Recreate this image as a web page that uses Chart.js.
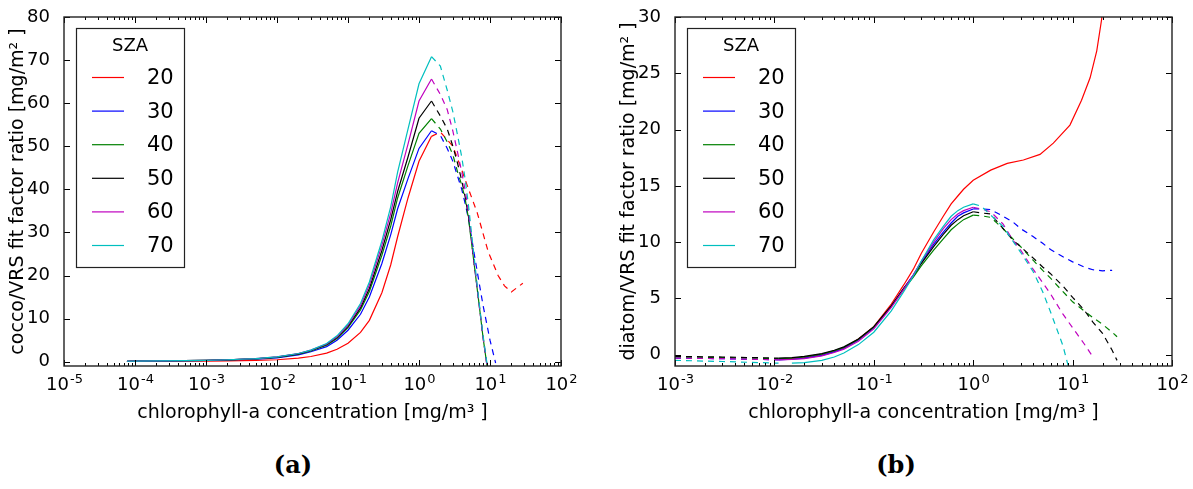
<!DOCTYPE html>
<html>
<head>
<meta charset="utf-8">
<script src="https://cdn.jsdelivr.net/npm/chart.js@4.4.1/dist/chart.umd.min.js"></script>
<style>
  body { margin: 0; background: #fff; width: 1193px; height: 489px; position: relative; overflow: hidden; }
  canvas { position: absolute; top: 0; }
  #chartA { left: 0; }
  #chartB { left: 611px; }
  .caption { position: absolute; top: 450px; width: 80px; text-align: center;
             font: bold 24px "DejaVu Serif", serif; color: #000; }
</style>
</head>
<body>
<canvas id="chartA" width="596" height="430"></canvas>
<canvas id="chartB" width="582" height="430"></canvas>
<div class="caption" style="left:253px">(a)</div>
<div class="caption" style="left:856px">(b)</div>
<script>
// ---------------- shared
const szaLabels = ['20', '30', '40', '50', '60', '70'];
const szaColors = ['#ff0000', '#0000ff', '#008000', '#000000', '#bf00bf', '#00bfbf'];
const legendTitle = 'SZA';
const xTitle = 'chlorophyll-a concentration [mg/m\u00b3 ]';

// ---------------- (a) cocco/VRS
const chlCocco = [7.7e-5, 1e-4, 2e-4, 5e-4, 1e-3, 2e-3, 5e-3, 1e-2, 2e-2, 3e-2, 5e-2, 0.07, 0.1, 0.15, 0.2, 0.3, 0.4, 0.5, 0.7, 1.0, 1.5];
const cocco20 = [0.05, 0.06, 0.08, 0.11, 0.14, 0.2, 0.3, 0.45, 0.85, 1.2, 2.0, 2.9, 4.3, 6.8, 9.6, 16, 22.5, 29, 38, 46.5, 52.3];
const cocco30 = [0.1, 0.11, 0.15, 0.22, 0.28, 0.4, 0.6, 0.9, 1.6, 2.3, 3.5, 5.0, 7.3, 11, 15, 22.8, 29.5, 35.5, 42.5, 49.5, 53.6];
const cocco40 = [0.1, 0.12, 0.16, 0.24, 0.3, 0.42, 0.65, 1.0, 1.75, 2.5, 3.8, 5.4, 7.9, 12, 16.3, 24.7, 31.5, 38, 45.5, 53, 56.4];
const cocco50 = [0.1, 0.12, 0.17, 0.25, 0.31, 0.43, 0.68, 1.05, 1.8, 2.6, 4.0, 5.6, 8.2, 12.5, 17, 25.8, 33, 39.5, 47.5, 56.5, 60.5];
const cocco60 = [0.1, 0.12, 0.17, 0.25, 0.32, 0.45, 0.7, 1.1, 1.9, 2.7, 4.1, 5.8, 8.5, 13, 17.8, 27, 34.5, 41.5, 50.5, 60.5, 65.6];
const cocco70 = [0.1, 0.12, 0.17, 0.25, 0.32, 0.45, 0.7, 1.1, 1.9, 2.7, 4.2, 6.0, 8.8, 13.5, 18.5, 28, 36, 44, 54, 64.5, 70.8];

// dashed part past the peak
const chlCoccoExt20 = [1.5, 2, 3, 4, 5, 6.6, 9.4, 13, 16, 20, 29];
const coccoExt20 = [52.3, 53.3, 50, 44.5, 40, 34.6, 25.6, 20, 17.6, 16.2, 18.2];
const chlCoccoExt = [1.5, 2, 2.5, 3, 3.5, 4, 4.5, 5, 6, 7, 8, 9, 10, 12];
const coccoExt30 = [53.6, 52.5, 49.5, 46.5, 43, 40, 36.5, 33, 25, 18.5, 13, 8.8, 5, -0.3];
const coccoExt40 = [56.4, 54, 51, 48, 44, 41, 37.5, 33, 22.5, 13.5, 5.5, -0.5, -6, -16];
const coccoExt50 = [60.5, 57, 54, 50, 46, 42, 38, 33.5, 22.5, 13.5, 5.5, -0.5, -6, -16];
const coccoExt60 = [65.6, 62, 58.5, 53.5, 48.5, 44, 39.5, 34.5, 23, 13.5, 5.5, -0.5, -6, -16];
const coccoExt70 = [70.8, 68.6, 63, 58, 52.5, 47.5, 42, 36, 24, 14, 6, 0, -6, -16];

const coccoYTicks = [0, 10, 20, 30, 40, 50, 60, 70, 80];

// ---------------- (b) diatom/VRS
const chlDiatomLow = [0.001, 0.003, 0.011];
const diatomLow30 = [-0.3, -0.35, -0.45];
const diatomLow40 = [-0.2, -0.25, -0.35];
const diatomLow50 = [-0.15, -0.2, -0.3];
const diatomLow60 = [-0.3, -0.35, -0.45];
const diatomLow70 = [-0.5, -0.6, -0.75];

const chlDiatom = [0.011, 0.015, 0.02, 0.03, 0.04, 0.05, 0.07, 0.1, 0.15, 0.2, 0.25, 0.3, 0.4, 0.5, 0.6, 0.7, 0.8, 1.0];
const diatom30 = [-0.45, -0.4, -0.3, -0.05, 0.25, 0.55, 1.3, 2.4, 4.3, 5.9, 7.1, 8.2, 9.8, 10.9, 11.7, 12.3, 12.6, 12.95];
const diatom40 = [-0.35, -0.3, -0.2, 0.05, 0.35, 0.65, 1.35, 2.45, 4.3, 5.8, 6.9, 7.9, 9.3, 10.3, 11.1, 11.6, 12.0, 12.4];
const diatom50 = [-0.3, -0.25, -0.15, 0.1, 0.4, 0.7, 1.4, 2.5, 4.35, 5.9, 7.0, 8.1, 9.6, 10.7, 11.5, 12.0, 12.35, 12.7];
const diatom60 = [-0.45, -0.42, -0.35, -0.1, 0.2, 0.5, 1.2, 2.3, 4.2, 5.8, 7.1, 8.3, 10.0, 11.2, 12.0, 12.5, 12.8, 13.1];
const diatom70 = [null, -0.75, -0.7, -0.5, -0.2, 0.15, 0.9, 2.0, 3.9, 5.6, 7.0, 8.3, 10.2, 11.4, 12.3, 12.8, 13.1, 13.4];

// SZA 20 stays solid over the whole range
const chlDiatom20 = [0.011, 0.015, 0.02, 0.03, 0.04, 0.05, 0.07, 0.1, 0.15, 0.2, 0.25, 0.3, 0.4, 0.5, 0.6, 0.7, 0.8, 1.0,
                     1.5, 2.2, 3.2, 4.7, 6.4, 9.4, 12.3, 15, 17.5, 19.6, 22];
const diatom20 = [-0.4, -0.35, -0.25, 0.0, 0.3, 0.6, 1.4, 2.5, 4.5, 6.2, 7.6, 9.0, 10.9, 12.3, 13.4, 14.1, 14.7, 15.5,
                  16.4, 17.0, 17.3, 17.8, 18.8, 20.4, 22.6, 24.6, 27, 29.8, 34];

const chlDiatomExt = [1.0, 1.2, 1.5, 2, 2.5, 3, 4, 5, 6, 8, 10, 13, 16, 20, 25, 28];
const diatomExt30 = [12.95, 12.95, 12.9, 12.3, 11.8, 11.2, 10.5, 9.9, 9.35, 8.7, 8.25, 7.8, 7.55, 7.45, 7.5, null];
const diatomExt40 = [12.4, 12.35, 12.2, 11.2, 10.3, 9.6, 8.4, 7.5, 6.8, 5.6, 4.7, 3.9, 3.3, 2.7, 2.0, 1.6];
const diatomExt50 = [12.7, 12.6, 12.5, 11.2, 10.2, 9.6, 8.6, 7.8, 7.2, 6.1, 5.1, 4.0, 2.9, 1.9, 0.4, -0.5];
const diatomExt60 = [13.1, 12.95, 12.7, 11.6, 10.2, 9.3, 7.6, 6.4, 5.4, 3.6, 2.4, 1.0, -0.2, null, null, null];
const diatomExt70 = [13.4, 13.2, 12.4, 11.4, 10.1, 9.1, 7.4, 5.6, 3.8, 0.8, -2.5, null, null, null, null, null];

const diatomYTicks = [0, 5, 10, 15, 20, 25, 30];

// ---------------- helpers
const FONT = '"DejaVu Sans", sans-serif';
const TICK_PX = 18;

function decades(min, max) {
  const out = [];
  for (let e = Math.round(Math.log10(min)); e <= Math.round(Math.log10(max)); e++) {
    out.push({ value: Math.pow(10, e) });
  }
  return out;
}

function points(xs, ys) {
  const pts = [];
  xs.forEach((x, i) => { if (ys[i] !== null) pts.push({ x: x, y: ys[i] }); });
  return pts;
}

function line(label, color, xs, ys, dashed, inLegend, order) {
  return {
    label: label,
    data: points(xs, ys),
    borderColor: color,
    borderWidth: 1.2,
    borderDash: dashed ? [6, 5] : [],
    pointRadius: 0,
    tension: 0,
    fill: false,
    inLegend: inLegend,
    order: order
  };
}

// box, inward ticks on all four sides
const frameTicks = {
  id: 'frameTicks',
  afterDatasetsDraw(chart) {
    const { ctx, chartArea: a, scales: { x, y } } = chart;
    ctx.save();
    ctx.strokeStyle = '#000';
    ctx.lineWidth = 1;
    ctx.beginPath();
    const lo = Math.round(Math.log10(x.min)), hi = Math.round(Math.log10(x.max));
    for (let e = lo; e <= hi; e++) {
      for (let m = 1; m <= 9; m++) {
        const v = m * Math.pow(10, e);
        if (v > x.max * 1.0001) break;
        const px = Math.round(x.getPixelForValue(v)) + 0.5;
        const len = m === 1 ? 6 : 3;
        ctx.moveTo(px, a.bottom); ctx.lineTo(px, a.bottom - len);
        ctx.moveTo(px, a.top); ctx.lineTo(px, a.top + len);
      }
    }
    y.ticks.forEach(t => {
      const py = Math.round(y.getPixelForValue(t.value)) + 0.5;
      ctx.moveTo(a.left, py); ctx.lineTo(a.left + 6, py);
      ctx.moveTo(a.right, py); ctx.lineTo(a.right - 6, py);
    });
    ctx.stroke();
    ctx.strokeStyle = '#222';
    ctx.lineWidth = 1.4;
    ctx.strokeRect(a.left, a.top, a.right - a.left, a.bottom - a.top);
    ctx.restore();
  }
};

// decade labels on the log axis, written as 10 with a raised exponent
const expLabels = {
  id: 'expLabels',
  afterDraw(chart) {
    const { ctx, chartArea: a, scales: { x } } = chart;
    const supPx = Math.round(TICK_PX * 0.7);
    const baseY = a.bottom + 24;
    ctx.save();
    ctx.fillStyle = '#000';
    ctx.textBaseline = 'alphabetic';
    ctx.textAlign = 'left';
    x.ticks.forEach(t => {
      const exp = String(Math.round(Math.log10(t.value)));
      ctx.font = TICK_PX + 'px ' + FONT;
      const wb = ctx.measureText('10').width;
      ctx.font = supPx + 'px ' + FONT;
      const we = ctx.measureText(exp).width;
      const left = x.getPixelForValue(t.value) - (wb + we) / 2;
      ctx.font = TICK_PX + 'px ' + FONT;
      ctx.fillText('10', left, baseY);
      ctx.font = supPx + 'px ' + FONT;
      ctx.fillText(exp, left + wb + 1, baseY - 7);
    });
    ctx.restore();
  }
};

// legend box in the upper left corner of the plot
const szaLegend = {
  id: 'szaLegend',
  afterDraw(chart) {
    const { ctx, chartArea: a } = chart;
    const items = chart.data.datasets.filter(d => d.inLegend);
    const bx = a.left + 12, by = a.top + 11, bw = 108, bh = 239;
    ctx.save();
    ctx.fillStyle = '#fff';
    ctx.fillRect(bx, by, bw, bh);
    ctx.strokeStyle = '#222';
    ctx.lineWidth = 1.2;
    ctx.strokeRect(bx + 0.5, by + 0.5, bw, bh);
    ctx.fillStyle = '#000';
    ctx.textBaseline = 'middle';
    ctx.textAlign = 'center';
    ctx.font = '18px ' + FONT;
    ctx.fillText(legendTitle, bx + 54, by + 18);
    ctx.textAlign = 'left';
    ctx.font = '21px ' + FONT;
    items.forEach((d, i) => {
      const yy = by + 49.5 + i * 33.6;
      ctx.strokeStyle = d.borderColor;
      ctx.lineWidth = 1.2;
      ctx.beginPath();
      ctx.moveTo(bx + 16, yy);
      ctx.lineTo(bx + 48, yy);
      ctx.stroke();
      ctx.fillText(d.label, bx + 71, yy + 1);
    });
    ctx.restore();
  }
};

function makeChart(id, datasets, xMin, yMax, yTicks, yTitle, rightPad) {
  return new Chart(document.getElementById(id), {
    type: 'line',
    data: { datasets: datasets },
    plugins: [frameTicks, expLabels, szaLegend],
    options: {
      responsive: false,
      animation: false,
      layout: { padding: { top: 17, right: rightPad, left: 0, bottom: 0 } },
      plugins: { legend: { display: false }, tooltip: { enabled: false } },
      scales: {
        x: {
          type: 'logarithmic',
          min: xMin,
          max: 100,
          afterBuildTicks: s => { s.ticks = decades(xMin, 100); },
          afterFit: s => { s.height = 64; },
          grid: { display: false },
          border: { display: false },
          ticks: { display: false, autoSkip: false },
          title: { display: true, text: xTitle, color: '#000',
                   font: { family: FONT, size: 19 }, padding: { top: 0, bottom: 6 } }
        },
        y: {
          type: 'linear',
          min: -1,
          max: yMax,
          afterBuildTicks: s => { s.ticks = yTicks.map(v => ({ value: v })); },
          afterFit: s => { s.width = 64; },
          grid: { display: false },
          border: { display: false },
          ticks: { padding: 6, color: '#000', font: { family: FONT, size: TICK_PX } },
          title: { display: true, text: yTitle, color: '#000',
                   font: { family: FONT, size: 19 }, padding: { top: 7, bottom: 0 } }
        }
      }
    }
  });
}

// ---------------- build
const coccoSolid = [cocco20, cocco30, cocco40, cocco50, cocco60, cocco70];
const coccoExt = [coccoExt20, coccoExt30, coccoExt40, coccoExt50, coccoExt60, coccoExt70];
const dsA = [];
szaLabels.forEach((lab, i) => {
  dsA.push(line(lab, szaColors[i], chlCocco, coccoSolid[i], false, true, 20 - 2 * i));
  const xs = i === 0 ? chlCoccoExt20 : chlCoccoExt;
  dsA.push(line(lab, szaColors[i], xs, coccoExt[i], true, false, 19 - 2 * i));
});
makeChart('chartA', dsA, 1e-5, 80, coccoYTicks, 'cocco/VRS fit factor ratio [mg/m\u00b2 ]', 35);

const diatomLow = [null, diatomLow30, diatomLow40, diatomLow50, diatomLow60, diatomLow70];
const diatomSolid = [diatom20, diatom30, diatom40, diatom50, diatom60, diatom70];
const diatomExt = [null, diatomExt30, diatomExt40, diatomExt50, diatomExt60, diatomExt70];
const dsB = [];
szaLabels.forEach((lab, i) => {
  if (i === 0) {
    dsB.push(line(lab, szaColors[i], chlDiatom20, diatom20, false, true, 30));
    return;
  }
  dsB.push(line(lab, szaColors[i], chlDiatom, diatomSolid[i], false, true, 30 - 3 * i));
  dsB.push(line(lab, szaColors[i], chlDiatomLow, diatomLow[i], true, false, 29 - 3 * i));
  dsB.push(line(lab, szaColors[i], chlDiatomExt, diatomExt[i], true, false, 28 - 3 * i));
});
makeChart('chartB', dsB, 1e-3, 30, diatomYTicks, 'diatom/VRS fit factor ratio [mg/m\u00b2 ]', 21);
</script>
</body>
</html>
